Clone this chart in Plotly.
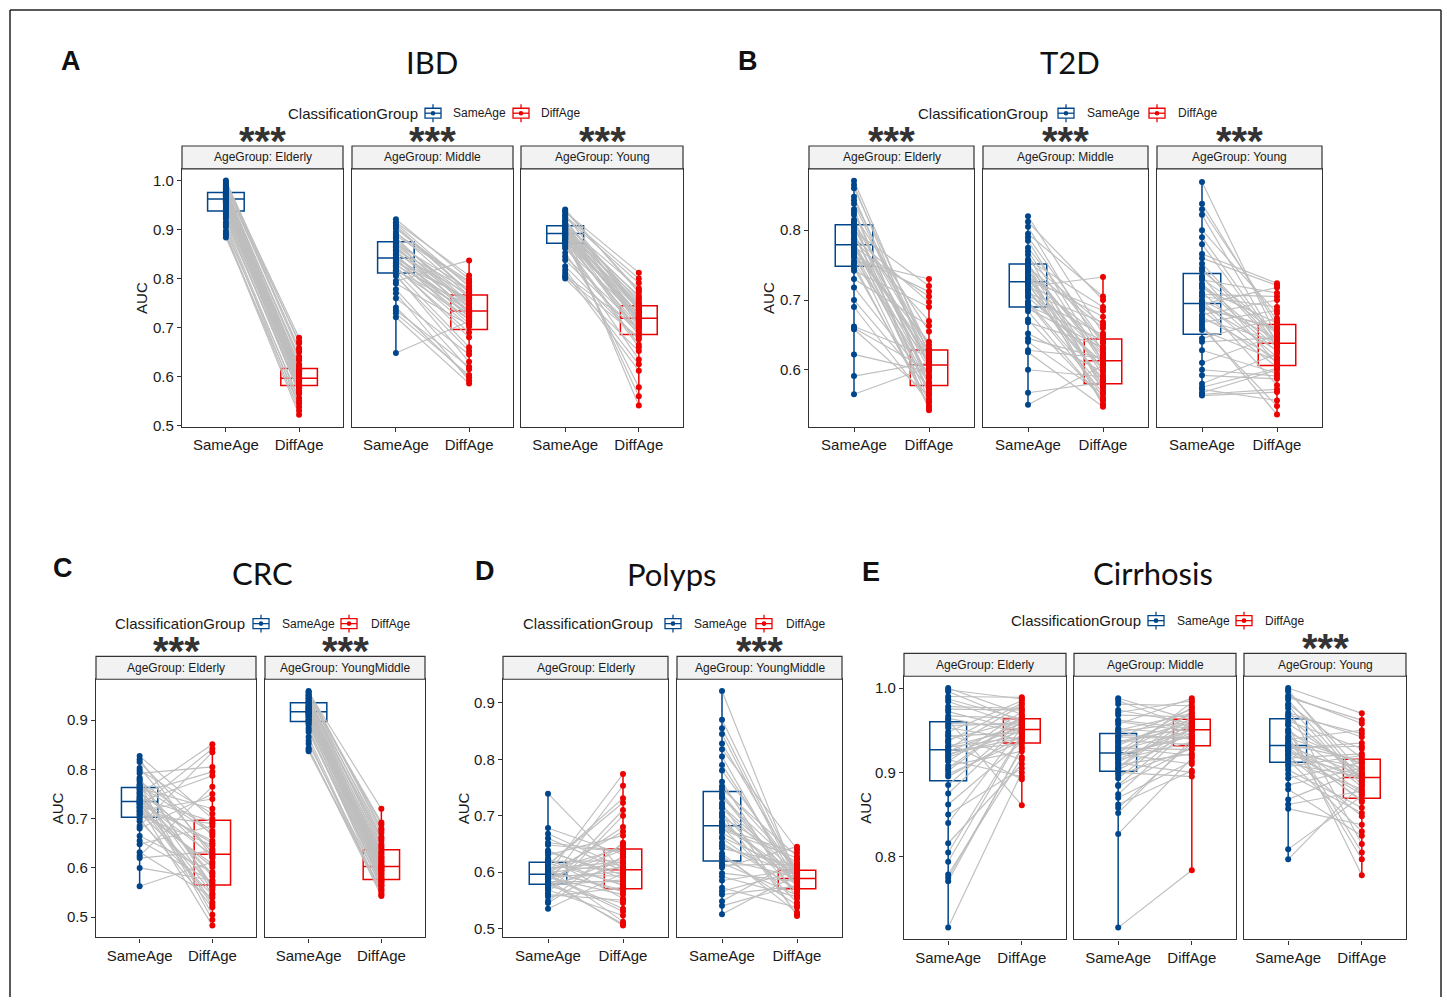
import plotly.graph_objects as go

W, H = 1447, 1004
BLUE = "#00468B"
RED = "#ED0000"
GREY_LINE = "#BEBEBE"
FONT = "Liberation Sans, Arial, sans-serif"

CAT_TICKS = ["SameAge", "DiffAge"]
LEGEND_TITLE = "ClassificationGroup"

# ---------------- data (AUC values, paired by index) ----------------
ibd_elderly_same = [0.884, 0.889, 0.897, 0.905, 0.915, 0.922, 0.930, 0.936, 0.940, 0.944, 0.948, 0.952, 0.955, 0.958, 0.960, 0.962,
                    0.963, 0.965, 0.967, 0.969, 0.971, 0.972, 0.973, 0.975, 0.976, 0.978, 0.981, 0.984, 0.987, 0.991, 0.995, 1.000,
                    0.892, 0.910, 0.926, 0.933, 0.942, 0.950, 0.956, 0.959, 0.964, 0.968, 0.970, 0.974, 0.979, 0.983, 0.989, 0.997]
ibd_elderly_diff = [0.545, 0.522, 0.556, 0.538, 0.576, 0.565, 0.583, 0.571, 0.590, 0.580, 0.585, 0.595, 0.588, 0.601, 0.592, 0.613,
                    0.594, 0.596, 0.607, 0.597, 0.618, 0.599, 0.625, 0.604, 0.641, 0.610, 0.633, 0.615, 0.658, 0.650, 0.679, 0.668,
                    0.530, 0.550, 0.568, 0.584, 0.578, 0.591, 0.587, 0.598, 0.593, 0.603, 0.612, 0.609, 0.621, 0.637, 0.672, 0.655]

ibd_middle_same = [0.648, 0.721, 0.729, 0.741, 0.760, 0.778, 0.795, 0.808, 0.815, 0.818, 0.822, 0.827, 0.831, 0.836, 0.840, 0.841,
                   0.843, 0.846, 0.851, 0.856, 0.861, 0.866, 0.871, 0.874, 0.876, 0.881, 0.888, 0.895, 0.902, 0.908, 0.915, 0.921,
                   0.735, 0.770, 0.790, 0.805, 0.817, 0.825, 0.833, 0.838, 0.848, 0.858, 0.864, 0.869, 0.884, 0.892, 0.905, 0.912]
ibd_middle_diff = [0.713, 0.586, 0.603, 0.598, 0.645, 0.615, 0.837, 0.630, 0.660, 0.718, 0.690, 0.744, 0.702, 0.727, 0.708, 0.757,
                   0.733, 0.723, 0.768, 0.735, 0.748, 0.731, 0.779, 0.739, 0.762, 0.752, 0.792, 0.765, 0.786, 0.773, 0.806, 0.799,
                   0.620, 0.592, 0.705, 0.652, 0.737, 0.680, 0.760, 0.715, 0.721, 0.776, 0.729, 0.750, 0.742, 0.795, 0.771, 0.783]

ibd_young_same = [0.800, 0.806, 0.812, 0.825, 0.838, 0.852, 0.862, 0.870, 0.874, 0.877, 0.880, 0.883, 0.886, 0.888, 0.890, 0.891,
                  0.893, 0.895, 0.897, 0.899, 0.901, 0.903, 0.905, 0.907, 0.909, 0.912, 0.916, 0.920, 0.925, 0.930, 0.936, 0.941,
                  0.803, 0.818, 0.845, 0.866, 0.876, 0.882, 0.885, 0.889, 0.894, 0.898, 0.902, 0.906, 0.911, 0.918, 0.928, 0.938]
ibd_young_diff = [0.652, 0.698, 0.612, 0.676, 0.688, 0.635, 0.720, 0.665, 0.703, 0.578, 0.730, 0.684, 0.716, 0.746, 0.693, 0.737,
                  0.708, 0.758, 0.712, 0.541, 0.727, 0.765, 0.718, 0.743, 0.780, 0.723, 0.752, 0.734, 0.791, 0.740, 0.812, 0.772,
                  0.680, 0.625, 0.700, 0.660, 0.729, 0.690, 0.560, 0.721, 0.741, 0.706, 0.749, 0.714, 0.762, 0.736, 0.800, 0.776]

t2d_elderly_same = [0.565, 0.591, 0.622, 0.658, 0.662, 0.690, 0.718, 0.742, 0.751, 0.756, 0.761, 0.766, 0.770, 0.773, 0.776, 0.778,
                    0.780, 0.783, 0.787, 0.791, 0.795, 0.799, 0.803, 0.806, 0.810, 0.815, 0.822, 0.830, 0.838, 0.848, 0.860, 0.871,
                    0.660, 0.700, 0.730, 0.746, 0.753, 0.763, 0.768, 0.775, 0.782, 0.789, 0.797, 0.804, 0.812, 0.826, 0.843, 0.865]
t2d_elderly_diff = [0.604, 0.610, 0.597, 0.563, 0.619, 0.553, 0.583, 0.690, 0.548, 0.730, 0.592, 0.640, 0.572, 0.625, 0.705, 0.579,
                    0.613, 0.558, 0.670, 0.601, 0.568, 0.720, 0.606, 0.588, 0.627, 0.542, 0.655, 0.576, 0.616, 0.608, 0.630, 0.622,
                    0.599, 0.574, 0.663, 0.555, 0.612, 0.712, 0.545, 0.618, 0.590, 0.697, 0.565, 0.609, 0.635, 0.581, 0.624, 0.603]

t2d_middle_same = [0.550, 0.567, 0.625, 0.628, 0.640, 0.652, 0.668, 0.684, 0.692, 0.698, 0.704, 0.710, 0.715, 0.719, 0.723, 0.725,
                   0.727, 0.730, 0.733, 0.737, 0.740, 0.744, 0.747, 0.750, 0.753, 0.758, 0.765, 0.775, 0.785, 0.795, 0.805, 0.820,
                   0.600, 0.645, 0.672, 0.688, 0.695, 0.706, 0.713, 0.721, 0.729, 0.735, 0.742, 0.749, 0.756, 0.770, 0.790, 0.812]
t2d_middle_diff = [0.606, 0.582, 0.547, 0.617, 0.565, 0.597, 0.633, 0.556, 0.642, 0.574, 0.610, 0.668, 0.587, 0.733, 0.621, 0.560,
                   0.646, 0.602, 0.676, 0.578, 0.629, 0.551, 0.660, 0.614, 0.592, 0.690, 0.570, 0.638, 0.612, 0.705, 0.625, 0.652,
                   0.590, 0.616, 0.558, 0.631, 0.567, 0.650, 0.584, 0.600, 0.685, 0.549, 0.623, 0.576, 0.664, 0.608, 0.640, 0.700]

t2d_young_same = [0.563, 0.567, 0.572, 0.580, 0.592, 0.610, 0.628, 0.645, 0.657, 0.664, 0.672, 0.679, 0.685, 0.690, 0.693, 0.694,
                  0.696, 0.700, 0.705, 0.711, 0.717, 0.723, 0.729, 0.734, 0.742, 0.752, 0.766, 0.780, 0.800, 0.822, 0.838, 0.869,
                  0.565, 0.575, 0.600, 0.640, 0.660, 0.668, 0.676, 0.688, 0.698, 0.708, 0.720, 0.731, 0.746, 0.760, 0.790, 0.830]
t2d_young_diff = [0.568, 0.600, 0.556, 0.623, 0.587, 0.650, 0.595, 0.674, 0.613, 0.536, 0.641, 0.700, 0.604, 0.658, 0.628, 0.718,
                  0.578, 0.644, 0.690, 0.618, 0.667, 0.632, 0.710, 0.608, 0.654, 0.637, 0.724, 0.635, 0.681, 0.639, 0.663, 0.647,
                  0.572, 0.602, 0.591, 0.646, 0.548, 0.685, 0.616, 0.660, 0.610, 0.705, 0.626, 0.652, 0.634, 0.721, 0.640, 0.670]

crc_elderly_same = [0.563, 0.600, 0.625, 0.632, 0.648, 0.665, 0.685, 0.700, 0.706, 0.712, 0.717, 0.721, 0.725, 0.729, 0.732, 0.734,
                    0.736, 0.739, 0.742, 0.746, 0.750, 0.754, 0.758, 0.762, 0.765, 0.770, 0.776, 0.783, 0.792, 0.803, 0.815, 0.827,
                    0.620, 0.655, 0.680, 0.695, 0.709, 0.715, 0.723, 0.731, 0.738, 0.744, 0.752, 0.760, 0.768, 0.780, 0.798, 0.820]
crc_elderly_diff = [0.612, 0.575, 0.765, 0.540, 0.685, 0.592, 0.835, 0.520, 0.646, 0.568, 0.740, 0.602, 0.483, 0.655, 0.548, 0.787,
                    0.626, 0.530, 0.694, 0.583, 0.851, 0.638, 0.555, 0.720, 0.620, 0.505, 0.675, 0.563, 0.805, 0.630, 0.665, 0.700,
                    0.634, 0.572, 0.750, 0.545, 0.690, 0.608, 0.842, 0.525, 0.650, 0.588, 0.795, 0.495, 0.670, 0.560, 0.710, 0.622]

crc_youngmiddle_same = [0.837, 0.843, 0.852, 0.866, 0.876, 0.884, 0.890, 0.895, 0.899, 0.902, 0.905, 0.908, 0.911, 0.913, 0.915, 0.916,
                        0.918, 0.920, 0.922, 0.924, 0.926, 0.928, 0.931, 0.934, 0.937, 0.940, 0.943, 0.946, 0.949, 0.952, 0.956, 0.959,
                        0.840, 0.858, 0.880, 0.893, 0.900, 0.907, 0.912, 0.915, 0.919, 0.923, 0.927, 0.932, 0.938, 0.944, 0.950, 0.957]
crc_youngmiddle_diff = [0.553, 0.543, 0.563, 0.548, 0.571, 0.558, 0.578, 0.567, 0.586, 0.575, 0.594, 0.582, 0.600, 0.590, 0.604, 0.597,
                        0.611, 0.602, 0.619, 0.607, 0.628, 0.615, 0.640, 0.623, 0.655, 0.634, 0.671, 0.648, 0.688, 0.663, 0.720, 0.680,
                        0.555, 0.545, 0.573, 0.565, 0.588, 0.580, 0.601, 0.595, 0.613, 0.605, 0.631, 0.621, 0.660, 0.644, 0.692, 0.676]

polyps_elderly_same = [0.535, 0.548, 0.556, 0.563, 0.568, 0.572, 0.575, 0.577, 0.580, 0.583, 0.586, 0.588, 0.590, 0.592, 0.594, 0.595,
                       0.597, 0.599, 0.601, 0.603, 0.606, 0.609, 0.612, 0.616, 0.619, 0.624, 0.630, 0.638, 0.648, 0.660, 0.678, 0.739,
                       0.545, 0.560, 0.570, 0.576, 0.582, 0.587, 0.591, 0.594, 0.598, 0.602, 0.607, 0.613, 0.622, 0.635, 0.652, 0.668]
polyps_elderly_diff = [0.598, 0.652, 0.573, 0.700, 0.523, 0.626, 0.545, 0.610, 0.753, 0.583, 0.505, 0.639, 0.560, 0.680, 0.593, 0.535,
                       0.774, 0.615, 0.568, 0.643, 0.512, 0.605, 0.731, 0.578, 0.620, 0.553, 0.665, 0.588, 0.636, 0.602, 0.631, 0.603,
                       0.628, 0.550, 0.710, 0.586, 0.508, 0.648, 0.600, 0.530, 0.672, 0.565, 0.618, 0.723, 0.576, 0.595, 0.637, 0.608]

polyps_youngmiddle_same = [0.525, 0.548, 0.560, 0.572, 0.585, 0.598, 0.608, 0.616, 0.623, 0.633, 0.642, 0.652, 0.662, 0.670, 0.677, 0.680,
                           0.684, 0.690, 0.697, 0.705, 0.713, 0.722, 0.731, 0.739, 0.747, 0.760, 0.780, 0.805, 0.828, 0.845, 0.870, 0.921,
                           0.540, 0.566, 0.592, 0.612, 0.628, 0.647, 0.660, 0.675, 0.688, 0.701, 0.717, 0.735, 0.752, 0.790, 0.818, 0.855]
polyps_youngmiddle_diff = [0.595, 0.622, 0.575, 0.537, 0.604, 0.583, 0.645, 0.559, 0.591, 0.528, 0.612, 0.569, 0.600, 0.587, 0.634, 0.546,
                           0.593, 0.580, 0.617, 0.564, 0.589, 0.522, 0.608, 0.578, 0.628, 0.553, 0.599, 0.572, 0.602, 0.585, 0.597, 0.588,
                           0.577, 0.601, 0.556, 0.614, 0.541, 0.594, 0.566, 0.625, 0.582, 0.525, 0.598, 0.573, 0.606, 0.586, 0.640, 0.590]

cirr_elderly_same = [0.716, 0.771, 0.779, 0.794, 0.816, 0.840, 0.862, 0.885, 0.895, 0.902, 0.908, 0.913, 0.918, 0.922, 0.925, 0.926,
                     0.928, 0.931, 0.935, 0.939, 0.943, 0.948, 0.953, 0.958, 0.962, 0.967, 0.972, 0.978, 0.984, 0.990, 0.996, 1.000,
                     0.775, 0.805, 0.850, 0.875, 0.898, 0.905, 0.915, 0.920, 0.930, 0.937, 0.945, 0.955, 0.964, 0.975, 0.987, 0.998]
cirr_elderly_diff = [0.900, 0.930, 0.918, 0.945, 0.910, 0.953, 0.936, 0.961, 0.943, 0.966, 0.925, 0.972, 0.949, 0.941, 0.958, 0.934,
                     0.980, 0.952, 0.892, 0.962, 0.947, 0.985, 0.939, 0.956, 0.861, 0.964, 0.950, 0.976, 0.955, 0.989, 0.960, 0.969,
                     0.928, 0.946, 0.905, 0.957, 0.937, 0.967, 0.895, 0.954, 0.942, 0.982, 0.915, 0.959, 0.948, 0.974, 0.963, 0.987]

cirr_middle_same = [0.716, 0.827, 0.852, 0.862, 0.874, 0.884, 0.893, 0.900, 0.903, 0.906, 0.909, 0.912, 0.915, 0.918, 0.920, 0.922,
                    0.924, 0.926, 0.929, 0.932, 0.935, 0.938, 0.941, 0.944, 0.948, 0.952, 0.957, 0.962, 0.968, 0.974, 0.981, 0.988,
                    0.858, 0.870, 0.885, 0.897, 0.905, 0.911, 0.916, 0.921, 0.925, 0.930, 0.936, 0.942, 0.950, 0.960, 0.971, 0.985]
cirr_middle_diff = [0.784, 0.917, 0.939, 0.902, 0.955, 0.930, 0.961, 0.895, 0.948, 0.972, 0.922, 0.957, 0.936, 0.983, 0.943, 0.910,
                    0.964, 0.950, 0.927, 0.969, 0.954, 0.933, 0.975, 0.941, 0.960, 0.945, 0.988, 0.952, 0.966, 0.958, 0.979, 0.962,
                    0.935, 0.913, 0.956, 0.928, 0.965, 0.900, 0.951, 0.944, 0.977, 0.920, 0.959, 0.940, 0.970, 0.949, 0.985, 0.953]

cirr_young_same = [0.797, 0.809, 0.857, 0.868, 0.880, 0.893, 0.903, 0.910, 0.914, 0.917, 0.920, 0.923, 0.926, 0.928, 0.930, 0.931,
                   0.933, 0.936, 0.939, 0.943, 0.947, 0.951, 0.956, 0.961, 0.966, 0.971, 0.976, 0.981, 0.986, 0.991, 0.996, 1.000,
                   0.862, 0.885, 0.898, 0.907, 0.915, 0.921, 0.925, 0.929, 0.934, 0.941, 0.949, 0.958, 0.968, 0.979, 0.989, 0.998]
cirr_young_diff = [0.886, 0.872, 0.838, 0.903, 0.825, 0.912, 0.858, 0.895, 0.880, 0.922, 0.848, 0.906, 0.891, 0.935, 0.867, 0.897,
                   0.914, 0.876, 0.950, 0.797, 0.909, 0.883, 0.778, 0.928, 0.893, 0.942, 0.815, 0.917, 0.889, 0.958, 0.900, 0.970,
                   0.878, 0.905, 0.852, 0.920, 0.830, 0.896, 0.874, 0.931, 0.865, 0.911, 0.805, 0.899, 0.946, 0.885, 0.962, 0.890]

# ---------------- panel / facet layout (pixels) ----------------
panels = [
    dict(letter="A", title="IBD", letter_xy=(71, 61), title_xy=(432, 62), auc_x=142,
         legend=dict(y=114, title_x=286, icon1=425, text1=451, icon2=513, text2=539),
         ytop=170, ybot=430, strip_top=147, yrange=[0.497, 1.024], yticks=[0.5, 0.6, 0.7, 0.8, 0.9, 1.0],
         facets=[("AgeGroup: Elderly", ibd_elderly_same, ibd_elderly_diff, 182, 343, True),
                 ("AgeGroup: Middle", ibd_middle_same, ibd_middle_diff, 352, 513, True),
                 ("AgeGroup: Young", ibd_young_same, ibd_young_diff, 521, 683, True)]),
    dict(letter="B", title="T2D", letter_xy=(748, 61), title_xy=(1070, 62), auc_x=769,
         legend=dict(y=114, title_x=916, icon1=1058, text1=1085, icon2=1149, text2=1176),
         ytop=170, ybot=430, strip_top=147, yrange=[0.518, 0.888], yticks=[0.6, 0.7, 0.8],
         facets=[("AgeGroup: Elderly", t2d_elderly_same, t2d_elderly_diff, 809, 974, True),
                 ("AgeGroup: Middle", t2d_middle_same, t2d_middle_diff, 983, 1148, True),
                 ("AgeGroup: Young", t2d_young_same, t2d_young_diff, 1157, 1322, True)]),
    dict(letter="C", title="CRC", letter_xy=(63, 572), title_xy=(262, 577), auc_x=57,
         legend=dict(y=628, title_x=113, icon1=253, text1=280, icon2=341, text2=369),
         ytop=684, ybot=944, strip_top=661, yrange=[0.459, 0.983], yticks=[0.5, 0.6, 0.7, 0.8, 0.9],
         facets=[("AgeGroup: Elderly", crc_elderly_same, crc_elderly_diff, 96, 256, True),
                 ("AgeGroup: YoungMiddle", crc_youngmiddle_same, crc_youngmiddle_diff, 265, 425, True)]),
    dict(letter="D", title="Polyps", letter_xy=(485, 575), title_xy=(671, 578), auc_x=463,
         legend=dict(y=628, title_x=521, icon1=665, text1=692, icon2=756, text2=784),
         ytop=684, ybot=944, strip_top=661, yrange=[0.484, 0.942], yticks=[0.5, 0.6, 0.7, 0.8, 0.9],
         facets=[("AgeGroup: Elderly", polyps_elderly_same, polyps_elderly_diff, 503, 668, False),
                 ("AgeGroup: YoungMiddle", polyps_youngmiddle_same, polyps_youngmiddle_diff, 677, 842, True)]),
    dict(letter="E", title="Cirrhosis", letter_xy=(871, 576), title_xy=(1153, 577), auc_x=866,
         legend=dict(y=625, title_x=1009, icon1=1148, text1=1175, icon2=1236, text2=1263),
         ytop=681, ybot=946, strip_top=658, yrange=[0.702, 1.014], yticks=[0.8, 0.9, 1.0],
         facets=[("AgeGroup: Elderly", cirr_elderly_same, cirr_elderly_diff, 904, 1066, False),
                 ("AgeGroup: Middle", cirr_middle_same, cirr_middle_diff, 1074, 1236, False),
                 ("AgeGroup: Young", cirr_young_same, cirr_young_diff, 1244, 1406, True)]),
]


def fx(x):
    return x / W


def fy(y):
    return 1 - y / H


fig = go.Figure()
layout = dict(width=W, height=H, autosize=False, margin=dict(l=0, r=0, t=0, b=0),
              paper_bgcolor="white", plot_bgcolor="white", showlegend=False,
              font=dict(family=FONT, color="#1A1A1A"))
shapes, annotations = [], []

k = 0
for p in panels:
    for fi, (strip, same, diff, x0, x1, sig) in enumerate(p["facets"]):
        k += 1
        xa = "x" if k == 1 else f"x{k}"
        ya = "y" if k == 1 else f"y{k}"
        xkey = "xaxis" if k == 1 else f"xaxis{k}"
        ykey = "yaxis" if k == 1 else f"yaxis{k}"
        n = len(same)
        # boxes (drawn beneath)
        for pos, vals, col in ((0, same, BLUE), (1, diff, RED)):
            fig.add_trace(go.Box(y=vals, x=[pos] * len(vals), width=0.5, whiskerwidth=0,
                                 boxpoints=False, fillcolor="white",
                                 line=dict(color=col, width=1.5), xaxis=xa, yaxis=ya,
                                 hoverinfo="skip"))
        # paired lines
        lx, ly = [], []
        for s, d in zip(same, diff):
            lx += [0, 1, None]
            ly += [s, d, None]
        fig.add_trace(go.Scatter(x=lx, y=ly, mode="lines", line=dict(color=GREY_LINE, width=1.15),
                                 xaxis=xa, yaxis=ya, hoverinfo="skip"))
        # points
        fig.add_trace(go.Scatter(x=[0] * n, y=same, mode="markers",
                                 marker=dict(color=BLUE, size=6), xaxis=xa, yaxis=ya))
        fig.add_trace(go.Scatter(x=[1] * len(diff), y=diff, mode="markers",
                                 marker=dict(color=RED, size=6), xaxis=xa, yaxis=ya))

        layout[xkey] = dict(domain=[fx(x0), fx(x1)], anchor=ya, range=[-0.6, 1.6],
                            tickvals=[0, 1], ticktext=CAT_TICKS, ticks="outside", ticklen=4,
                            tickcolor="#333333", tickfont=dict(size=15, color="#1A1A1A"),
                            showline=True, mirror=True, linecolor="#333333", linewidth=1.2,
                            showgrid=False, zeroline=False, fixedrange=True)
        layout[ykey] = dict(domain=[fy(p["ybot"]), fy(p["ytop"])], anchor=xa, range=p["yrange"],
                            tickvals=p["yticks"], tickformat=".1f",
                            ticks="outside" if fi == 0 else "", ticklen=4, tickcolor="#333333",
                            showticklabels=(fi == 0), tickfont=dict(size=15, color="#1A1A1A"),
                            showline=True, mirror=True, linecolor="#333333", linewidth=1.2,
                            showgrid=False, zeroline=False, fixedrange=True)
        # strip
        shapes.append(dict(type="rect", xref="paper", yref="paper",
                           x0=fx(x0), x1=fx(x1), y0=fy(p["ytop"]), y1=fy(p["strip_top"]),
                           fillcolor="#F2F2F2", line=dict(color="#333333", width=1.2)))
        annotations.append(dict(xref="paper", yref="paper", x=fx((x0 + x1) / 2),
                                y=fy((p["ytop"] + p["strip_top"]) / 2), text=strip, showarrow=False,
                                xanchor="center", yanchor="middle",
                                font=dict(size=12, color="#1A1A1A")))
        if sig:
            annotations.append(dict(xref="paper", yref="paper", x=fx((x0 + x1) / 2),
                                    y=fy(p["strip_top"] - 5), text="<b>***</b>", showarrow=False,
                                    xanchor="center", yanchor="middle",
                                    font=dict(size=40, color="#333333")))
    # titles
    annotations.append(dict(xref="paper", yref="paper", x=fx(p["letter_xy"][0]), y=fy(p["letter_xy"][1]),
                            text="<b>" + p["letter"] + "</b>", showarrow=False, xanchor="center",
                            yanchor="middle", font=dict(size=27, color="#111111")))
    annotations.append(dict(xref="paper", yref="paper", x=fx(p["title_xy"][0]), y=fy(p["title_xy"][1]),
                            text=p["title"], showarrow=False, xanchor="center", yanchor="middle",
                            font=dict(size=31, family="Lato, Open Sans, sans-serif", color="#111111")))
    # AUC label
    annotations.append(dict(xref="paper", yref="paper", x=fx(p["auc_x"]),
                            y=fy((p["ytop"] + p["ybot"]) / 2), text="AUC", textangle=-90,
                            showarrow=False, xanchor="center", yanchor="middle",
                            font=dict(size=15, color="#1A1A1A")))
    # legend
    lg = p["legend"]
    ly_ = lg["y"]
    annotations.append(dict(xref="paper", yref="paper", x=fx(lg["title_x"]), y=fy(ly_),
                            text=LEGEND_TITLE, showarrow=False, xanchor="left", yanchor="middle",
                            font=dict(size=15, color="#1A1A1A")))
    for icon_x, text_x, name, col in ((lg["icon1"], lg["text1"], "SameAge", BLUE),
                                      (lg["icon2"], lg["text2"], "DiffAge", RED)):
        cx = icon_x + 8
        shapes.append(dict(type="rect", xref="paper", yref="paper", x0=fx(icon_x), x1=fx(icon_x + 16),
                           y0=fy(ly_ + 5), y1=fy(ly_ - 5), line=dict(color=col, width=1.3),
                           fillcolor="white"))
        shapes.append(dict(type="line", xref="paper", yref="paper", x0=fx(icon_x), x1=fx(icon_x + 16),
                           y0=fy(ly_), y1=fy(ly_), line=dict(color=col, width=1.3)))
        shapes.append(dict(type="line", xref="paper", yref="paper", x0=fx(cx), x1=fx(cx),
                           y0=fy(ly_ - 9), y1=fy(ly_ - 5), line=dict(color=col, width=1.3)))
        shapes.append(dict(type="line", xref="paper", yref="paper", x0=fx(cx), x1=fx(cx),
                           y0=fy(ly_ + 5), y1=fy(ly_ + 9), line=dict(color=col, width=1.3)))
        shapes.append(dict(type="circle", xref="paper", yref="paper", x0=fx(cx - 2.3), x1=fx(cx + 2.3),
                           y0=fy(ly_ + 2.3), y1=fy(ly_ - 2.3), fillcolor=col, line=dict(color=col, width=0)))
        annotations.append(dict(xref="paper", yref="paper", x=fx(text_x), y=fy(ly_), text=name,
                                showarrow=False, xanchor="left", yanchor="middle",
                                font=dict(size=12, color="#1A1A1A")))

# outer frame
for (ax0, ay0, ax1, ay1) in ((10, 10, 10, 1004), (10, 10, 1441, 10), (1441, 10, 1441, 1004)):
    shapes.append(dict(type="line", xref="paper", yref="paper", x0=fx(ax0), y0=fy(ay0),
                       x1=fx(ax1), y1=fy(ay1), line=dict(color="#222222", width=1.5)))

layout["shapes"] = shapes
layout["annotations"] = annotations
fig.update_layout(**layout)
fig.write_html("out.html", config={"displayModeBar": False},
               post_script="document.body.style.margin='0px';document.body.style.overflow='hidden';")
